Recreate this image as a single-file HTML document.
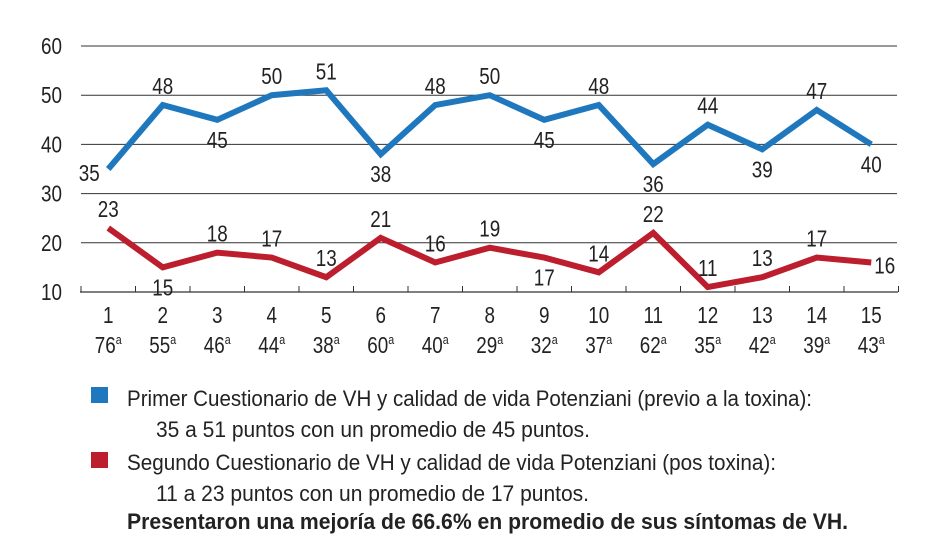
<!DOCTYPE html>
<html><head><meta charset="utf-8"><style>
body{margin:0;background:#fff;width:933px;height:554px;overflow:hidden}
svg text{font-family:"Liberation Sans Narrow","Liberation Sans",sans-serif;fill:#222}
.lg{position:absolute;left:0;top:0;width:933px;height:554px}
</style></head><body>
<svg class="lg" width="933" height="554">
<g id="grid"></g><g id="xaxis"></g><g id="series"></g><g id="legend"></g>
</svg>
<script>
const categories=["1","2","3","4","5","6","7","8","9","10","11","12","13","14","15"];
const ages=["76","55","46","44","38","60","40","29","32","37","62","35","42","39","43"];
const firstScores=[35,48,45,50,51,38,48,50,45,48,36,44,39,47,40];
const secondScores=[23,15,18,17,13,21,16,19,17,14,22,11,13,17,16];
const firstLabelPos=["bl","a","b","a","a","b","a","a","b","a","b","a","b","a","b"];
const secondLabelPos=["a","b","a","a","a","a","a","a","b","a","a","a","a","a","r"];
const yTicks=[10,20,30,40,50,60];
const NS="http://www.w3.org/2000/svg";
const x0=81,step=54.5,yTop=46,yBot=292,SX=0.82;
const xs=i=>x0+step*(i+0.5);
const ys=v=>yBot-(v-10)/50*(yBot-yTop);
function el(t,a,p,txt){const e=document.createElementNS(NS,t);for(const k in a)e.setAttribute(k,a[k]);if(txt!==undefined)e.textContent=txt;p.appendChild(e);return e;}
function squeeze(t,x){t.setAttribute('transform','translate('+x+',0) scale('+SX+',1) translate('+(-x)+',0)');}
const g=document.getElementById('grid');
yTicks.forEach(v=>{
 if(v>10){const l=el('line',{x1:x0,x2:897,y1:ys(v),y2:ys(v),stroke:'#333','stroke-width':1},g);
 }
 const t=el('text',{x:62,y:ys(v)+8,'font-size':23,'text-anchor':'end'},g,v);
 squeeze(t,62);
 
});
const xa=document.getElementById('xaxis');
const ax=el('line',{x1:x0-1,x2:898,y1:yBot,y2:yBot,stroke:'#333','stroke-width':1.2},xa);

for(let i=0;i<=categories.length;i++){
 const tk=el('line',{x1:x0+step*i,x2:x0+step*i,y1:yBot-6,y2:yBot,stroke:'#333','stroke-width':1},xa);
 
}
categories.forEach((c,i)=>{
 const t=el('text',{x:xs(i),y:323,'font-size':23,'text-anchor':'middle'},xa,c);
 squeeze(t,xs(i));
 
 const a=el('text',{x:xs(i),y:353,'font-size':23,'text-anchor':'middle'},xa,ages[i]);
 el('tspan',{'font-size':13,dy:-9},a,'a');
 squeeze(a,xs(i));
 
});
const s=document.getElementById('series');
function draw(vals,pos,color,name){
 const p=el('polyline',{points:vals.map((v,i)=>xs(i)+','+ys(v)).join(' '),fill:'none',stroke:color,'stroke-width':6,'stroke-linejoin':'miter'},s);
 
 vals.forEach((v,i)=>{
  let x=xs(i),y=ys(v),anc='middle';
  if(pos[i]==='a')y-=11;else if(pos[i]==='b')y+=28;else if(pos[i]==='bl'){x-=19;y+=12;}else if(pos[i]==='r'){x+=3;y+=11;anc='start';}
  const t=el('text',{x:x,y:y,'font-size':23,'text-anchor':anc},s,v);
  squeeze(t,x);
  
 });
}
draw(firstScores,firstLabelPos,'#1f78bd','first-questionnaire');
draw(secondScores,secondLabelPos,'#bc1e2e','second-questionnaire');
const lg=document.getElementById('legend');
const r1=el('rect',{x:91,y:387,width:17,height:16,fill:'#1f78bd'},lg);

const r2=el('rect',{x:91,y:452,width:17,height:16,fill:'#bc1e2e'},lg);

const lines=[[127,406,"Primer Cuestionario de VH y calidad de vida Potenziani (previo a la toxina):",false,685],
[156,437,"35 a 51 puntos con un promedio de 45 puntos.",false,434],
[127,470,"Segundo Cuestionario de VH y calidad de vida Potenziani (pos toxina):",false,649],
[156,501,"11 a 23 puntos con un promedio de 17 puntos.",false,433],
[127,529,"Presentaron una mejoría de 66.6% en promedio de sus síntomas de VH.",true,721]];
lines.forEach(l=>{
 const t=el('text',{x:l[0],y:l[1],'font-size':22,'font-weight':l[3]?'bold':'normal',textLength:l[4],lengthAdjust:'spacingAndGlyphs'},lg,l[2]);
 
});
</script>
</body></html>
